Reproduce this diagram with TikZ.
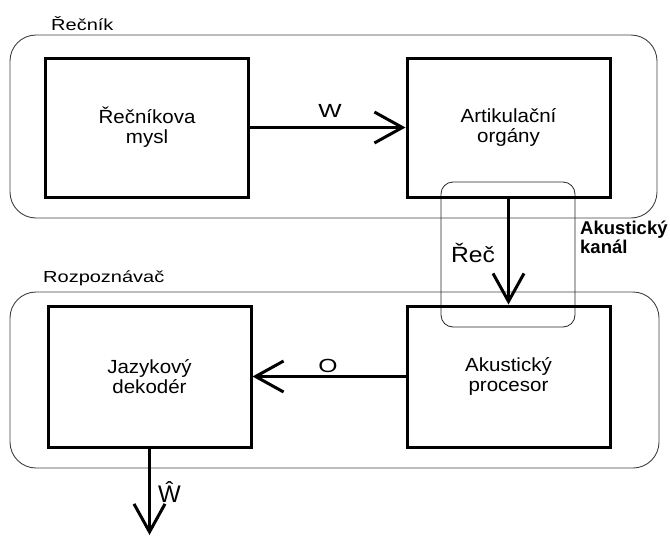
\documentclass[tikz,border=0pt]{standalone}
\usepackage{fontspec}
\setmainfont{Liberation Sans}
\newfontfamily\boxfont[FakeStretch=1.08]{Liberation Sans}
\newfontfamily\labfont[FakeStretch=1.25]{Liberation Sans}
\newfontfamily\sigfont[FakeStretch=1.3]{Liberation Sans}
\newfontfamily\recfont[FakeStretch=1.12]{Liberation Sans}
\usetikzlibrary{arrows.meta}
\begin{document}
\begin{tikzpicture}[x=1pt,y=-1pt,
  group/.style={draw=black!75, line width=0.9pt, rounded corners=26pt, minimum width=#1, inner sep=0pt, outer sep=0pt},
  block/.style={draw, line width=3pt, minimum width=203pt, minimum height=139pt, align=center,
    font=\boxfont\fontsize{19}{20}\selectfont, inner sep=0pt},
  chan/.style={draw=black!85, line width=0.8pt, rounded corners=12pt, minimum width=134pt, minimum height=145pt, inner sep=0pt},
  flow/.style={line width=3pt, -{Straight Barb[length=28pt,width=31pt,line width=3pt]}},
  grouplabel/.style={anchor=base west, inner sep=0pt, font=\labfont\fontsize{16}{18}\selectfont},
  siglabel/.style={anchor=base, inner sep=0pt, font=\sigfont\fontsize{19}{20}\selectfont}]
\useasboundingbox (0,0) rectangle (670,536);
% groups
\node[group=647pt, minimum height=183pt] (speaker) at (333.5,126.5) {};
\node[group=649pt, minimum height=176pt] (recog) at (334.5,380) {};
\node[grouplabel] (speakerlbl) at (51,30) {Řečník};
\node[grouplabel] (recoglbl) at (43,282) {Rozpoznávač};
% channel
\node[chan] (channel) at (508,254.5) {};
% blocks
\node[block] (mind) at (147,127.5) {Řečníkova\\mysl};
\node[block] (artic) at (508.5,127.5) {Artikulační\\orgány};
\node[block, minimum height=141pt] (decoder) at (149.5,376.5) {Jazykový\\dekodér};
\node[block, minimum height=141pt] (proc) at (508.5,376.5) {Akustický\\procesor};
% connectors
\draw[flow] (mind.east) -- (artic.west);
\draw[flow] (artic.south) -- (proc.north);
\draw[flow] (proc.west) -- (decoder.west -| decoder.east);
\coordinate (out) at (149.5,535);
\draw[flow] (decoder.south) -- (out);
% labels
\node[siglabel] (wlbl) at (330,117) {W};
\node[siglabel] (olbl) at (328,372) {O};
\node[anchor=base, inner sep=0pt, font=\recfont\fontsize{22}{24}\selectfont] (reclbl) at (473,262) {Řeč};
\node[anchor=base west, inner sep=0pt, align=left, font=\bfseries\fontsize{18.5}{17}\selectfont] (chanlbl) at (580,253) {Akustický\\kanál};
\node[anchor=base west, inner sep=0pt, font=\fontsize{24}{26}\selectfont] (whatlbl) at (158,502) {Ŵ};
\end{tikzpicture}
\end{document}
